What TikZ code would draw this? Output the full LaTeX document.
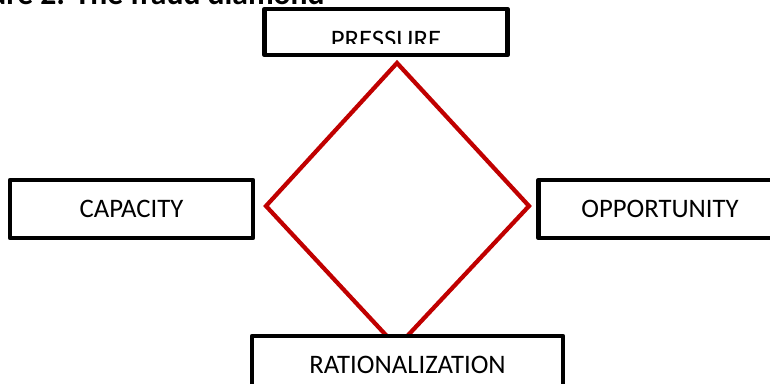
\documentclass[tikz,border=0pt]{standalone}
\usepackage{fontspec}
\setmainfont{Carlito}
\usepackage{tikz}
\definecolor{fraudred}{RGB}{192,0,0}
\tikzset{%
    factor/.style={%
        draw=black, line width=0.09cm, line join=round, fill=white,
        minimum width=4.86cm, minimum height=1.16cm, inner sep=0pt,
        font=\fontsize{15.2}{18}\selectfont
    },
    label/.style={inner sep=0pt, font=\fontsize{15.2}{18}\selectfont}
}

\begin{document}
\begin{tikzpicture}[x=0.02cm,y=-0.02cm]
%-----------------------------------------------
    \useasboundingbox (0,0) rectangle (770,383);
    \clip (0,0) rectangle (770,383);
%-----------------------------------------------
    \node[anchor=base east, inner sep=0pt, font=\bfseries\fontsize{18}{21}\selectfont] (title) at (325,4.5) {Figure 2: The fraud diamond};
%-----------------------------------------------
    \draw[line width=0.085cm, color=fraudred, line join=miter] (397,63)--(529,206)--(397,347)--(266,206)--cycle;
%-----------------------------------------------
    \node[factor, minimum height=0.92cm] (pressure) at (386,32) {};
    \begin{scope}
        \clip (265,9) rectangle (507,43);
        \node[label] (pressuretext) at (386,40) {PRESSURE};
    \end{scope}
    \node[factor] (capacity) at (131.5,209) {CAPACITY};
    \node[factor] (opportunity) at (660,209) {OPPORTUNITY};
    \node[factor, minimum width=6.22cm] (rationalization) at (407.5,365) {RATIONALIZATION};
\end{tikzpicture}
\end{document}
